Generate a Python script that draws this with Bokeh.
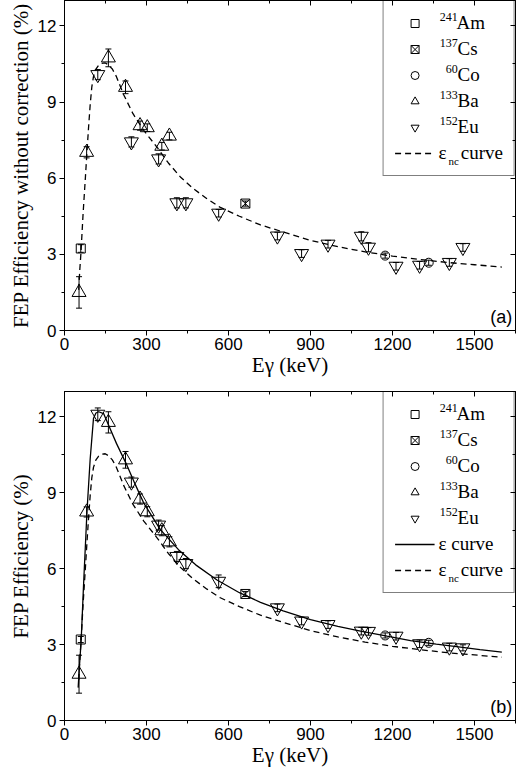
from bokeh.plotting import figure
from bokeh.models import (ColumnDataSource, Whisker, Legend, LegendItem, LinearAxis,
                          SingleIntervalTicker, Range1d, Label, TeeHead, CustomJSTickFormatter)
from bokeh.layouts import column
from bokeh.embed import file_html
from bokeh.resources import INLINE

# ---------------- data ----------------
# gamma energies (keV)
am_e = [59.5]
cs_e = [661.7]
co_e = [1173.2, 1332.5]
ba_e = [53.2, 81.0, 160.6, 223.2, 276.4, 302.9, 356.0, 383.8]
eu_e = [121.8, 244.7, 344.3, 411.1, 444.0, 564.0, 778.9, 867.4, 964.1,
        1085.8, 1112.1, 1212.9, 1299.1, 1408.0, 1457.6]

# panel (a): FEP efficiency without correction (%)
a_am = [3.23]
a_am_err = [0.15]
a_cs = [5.0]
a_cs_err = [0.1]
a_co = [2.95, 2.67]
a_co_err = [0.1, 0.1]
a_ba = [1.5, 7.02, 10.74, 9.58, 8.07, 7.99, 7.26, 7.66]
a_ba_err = [0.62, 0.22, 0.35, 0.25, 0.18, 0.15, 0.15, 0.15]
a_eu = [10.08, 7.43, 6.76, 5.03, 5.03, 4.62, 3.72, 3.03, 3.40,
        3.71, 3.28, 2.53, 2.57, 2.68, 3.27]
a_eu_err = [0.2, 0.2, 0.2, 0.2, 0.2, 0.15, 0.15, 0.15, 0.15,
            0.18, 0.18, 0.15, 0.15, 0.15, 0.15]

# panel (b): FEP efficiency (%)
b_am = [3.2]
b_am_err = [0.12]
b_cs = [5.0]
b_cs_err = [0.1]
b_co = [3.36, 3.07]
b_co_err = [0.1, 0.1]
b_ba = [1.83, 8.24, 11.78, 10.3, 8.75, 8.25, 7.5, 7.06]
b_ba_err = [0.75, 0.2, 0.42, 0.33, 0.2, 0.2, 0.2, 0.2]
b_eu = [12.1, 9.42, 7.72, 6.48, 6.2, 5.5, 4.45, 3.93, 3.79,
        3.53, 3.52, 3.33, 3.03, 2.9, 2.87]
b_eu_err = [0.25, 0.2, 0.2, 0.2, 0.2, 0.25, 0.15, 0.15, 0.15,
            0.15, 0.15, 0.15, 0.15, 0.15, 0.12]

# fitted curves
nc_x = [52, 56, 60, 68, 76, 82, 88, 94, 100, 106, 115, 125, 135, 149, 160,
        175, 190, 216, 250, 290, 340, 380, 424, 470, 520, 570, 640, 717, 800,
        900, 1000, 1100, 1200, 1300, 1400, 1500, 1600]
nc_y = [1.6, 2.4, 3.03, 4.6, 5.95, 7.0, 8.0, 8.9, 9.6, 10.0, 10.3, 10.45, 10.52,
        10.54, 10.47, 10.3, 10.0, 9.3, 8.55, 7.88, 7.2, 6.6, 6.05, 5.6, 5.2, 4.85,
        4.5, 4.16, 3.88, 3.55, 3.3, 3.1, 2.93, 2.8, 2.68, 2.59, 2.5]
ep_x = [50, 55, 61, 70, 82, 94, 106, 115, 125, 143, 167, 190, 229, 260, 289,
        350, 417, 480, 558, 640, 717, 800, 900, 1000, 1083, 1180, 1266, 1360,
        1449, 1520, 1600]
ep_y = [1.3, 2.2, 3.16, 5.42, 8.21, 10.34, 11.93, 12.15, 12.2, 12.13, 11.53,
        10.95, 10.07, 9.3, 8.61, 7.55, 6.75, 6.15, 5.55, 5.05, 4.67, 4.33, 3.99,
        3.72, 3.53, 3.33, 3.16, 3.02, 2.9, 2.8, 2.7]

isotopes = ["Am", "Cs", "Co", "Ba", "Eu"]
mass_numbers = ["241", "137", "60", "133", "152"]

x_ticks_interval = 300
y_ticks_interval = 3
X_MAX = 1650
Y_MAX = 13

SERIF = "Liberation Serif"
SANS = "Liberation Sans"

W = 521
BL, BR = 64, 6          # left / right borders (px)
TOP_AX = 2.5            # approximate thickness of the label-less top axis
LEG_PAD, ROW = 11, 26   # legend padding and row pitch
LABEL_FS = 19


def err_source(xs, ys, es):
    return ColumnDataSource(dict(x=xs, y=ys,
                                 upper=[v + e for v, e in zip(ys, es)],
                                 lower=[v - e for v, e in zip(ys, es)]))


def make_panel(series, curves, ylabel, tag, height, bottom_border, nc_row):
    p = figure(width=W, height=height, x_range=Range1d(0, X_MAX), y_range=Range1d(0, Y_MAX),
               output_backend="svg", toolbar_location=None,
               min_border_left=BL, min_border_right=BR, min_border_top=0,
               min_border_bottom=bottom_border)
    frame_w = W - BL - BR
    frame_h = height - bottom_border - TOP_AX
    kx = frame_w / X_MAX

    def y_at(px_below_top):
        return Y_MAX - px_below_top * Y_MAX / frame_h

    p.xgrid.visible = False
    p.ygrid.visible = False
    p.outline_line_color = "black"
    p.outline_line_width = 1
    p.background_fill_color = "white"

    xt = SingleIntervalTicker(interval=x_ticks_interval, num_minor_ticks=2)
    yt = SingleIntervalTicker(interval=y_ticks_interval, num_minor_ticks=2)
    p.xaxis.ticker = xt
    p.yaxis.ticker = yt
    for ax in (p.xaxis[0], p.yaxis[0]):
        ax.major_tick_in = 0
        ax.major_tick_out = 5
        ax.minor_tick_in = 0
        ax.minor_tick_out = 3
        ax.major_label_text_font = SANS
        ax.major_label_text_font_size = "17px"
        ax.major_label_text_color = "black"
        ax.axis_label_text_font = SERIF
        ax.axis_label_text_font_size = "21px"
        ax.axis_label_text_font_style = "normal"
        ax.axis_label_text_color = "black"
        ax.axis_line_color = "black"
        ax.major_tick_line_color = "black"
        ax.minor_tick_line_color = "black"
    p.xaxis.axis_label = "Eγ (keV)"
    p.yaxis.axis_label = ylabel
    p.xaxis.major_label_standoff = 2
    p.yaxis.major_label_standoff = 3
    p.xaxis.axis_label_standoff = 0
    p.yaxis.axis_label_standoff = 2

    for loc, tk in (("above", xt), ("right", yt)):
        ax = LinearAxis(ticker=tk, formatter=CustomJSTickFormatter(code="return ''"))
        ax.major_tick_in = 5
        ax.major_tick_out = 0
        ax.minor_tick_in = 3
        ax.minor_tick_out = 0
        ax.major_label_standoff = 0
        ax.axis_line_color = "black"
        ax.major_tick_line_color = "black"
        ax.minor_tick_line_color = "black"
        p.add_layout(ax, loc)

    items = []
    for name, marker, size, xs, ys, es in series:
        src = err_source(xs, ys, es)
        p.add_layout(Whisker(source=src, base="x", upper="upper", lower="lower",
                             line_color="black", line_width=1,
                             upper_head=TeeHead(size=6, line_color="black", line_width=1),
                             lower_head=TeeHead(size=6, line_color="black", line_width=1)))
        r = p.scatter("x", "y", source=src, marker=marker, size=size,
                      fill_color=None, line_color="black", line_width=1)
        items.append(LegendItem(label="    " + name, renderers=[r]))

    for label, xs, ys, dash in curves:
        r = p.line(xs, ys, line_color="black", line_width=1.3, line_dash=dash)
        items.append(LegendItem(label=label, renderers=[r]))

    leg = Legend(items=items, location="top_right", margin=0,
                 border_line_color="black", border_line_width=1,
                 background_fill_alpha=0,
                 label_text_font=SERIF, label_text_font_size=f"{LABEL_FS}px",
                 label_text_color="black",
                 glyph_width=40, glyph_height=20, label_height=22,
                 label_standoff=4, spacing=ROW - 22, padding=LEG_PAD)
    p.add_layout(leg)

    # start of the legend label column (widest label is "ε   curve")
    widest = LABEL_FS * (0.44 + 3 * 0.25 + 2.221)
    col_px = frame_w - LEG_PAD - widest
    sup_x = (col_px + 4 * 0.25 * LABEL_FS - 1) / kx
    for i, mn in enumerate(mass_numbers):
        p.add_layout(Label(x=sup_x, y=y_at(LEG_PAD + 11 + ROW * i - 6), text=mn,
                           text_font=SERIF, text_font_size="12px", text_color="black",
                           text_align="right", text_baseline="middle"))
    nc_x_pos = (col_px + 0.44 * LABEL_FS + 0.5) / kx
    p.add_layout(Label(x=nc_x_pos, y=y_at(LEG_PAD + 11 + ROW * nc_row + 7), text="nc",
                       text_font=SERIF, text_font_size="11px", text_color="black",
                       text_baseline="middle", text_align="left"))

    p.add_layout(Label(x=1638, y=0.15, text=tag, text_font=SANS, text_font_size="18px",
                       text_color="black", text_align="right", text_baseline="bottom"))
    return p


def series_for(am, am_err, cs, cs_err, co, co_err, ba, ba_err, eu, eu_err):
    return [
        (isotopes[0], "square", 9, am_e, am, am_err),
        (isotopes[1], "square_x", 9, cs_e, cs, cs_err),
        (isotopes[2], "circle", 9, co_e, co, co_err),
        (isotopes[3], "triangle", 14, ba_e, ba, ba_err),
        (isotopes[4], "inverted_triangle", 14, eu_e, eu, eu_err),
    ]


series_a = series_for(a_am, a_am_err, a_cs, a_cs_err, a_co, a_co_err, a_ba, a_ba_err, a_eu, a_eu_err)
series_b = series_for(b_am, b_am_err, b_cs, b_cs_err, b_co, b_co_err, b_ba, b_ba_err, b_eu, b_eu_err)

p1 = make_panel(series_a, [("ε   curve", nc_x, nc_y, "6 4")],
                "FEP Efficiency without correction (%)", "(a)", 391, 61, 5)
p2 = make_panel(series_b, [("ε curve", ep_x, ep_y, "solid"), ("ε   curve", nc_x, nc_y, "6 4")],
                "FEP Efficiency (%)", "(b)", 388, 59, 6)

layout = column(p1, p2, spacing=0)
open("out.html", "w").write(file_html(layout, INLINE))
